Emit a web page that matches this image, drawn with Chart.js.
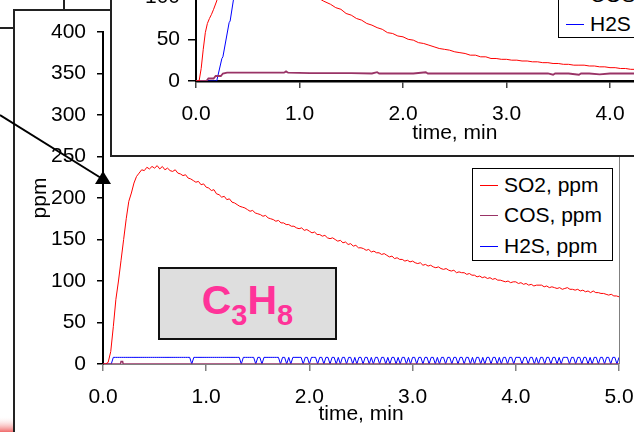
<!DOCTYPE html>
<html>
<head>
<meta charset="utf-8">
<title>C3H8 - SO2 / COS / H2S</title>
<script src="https://cdn.jsdelivr.net/npm/chart.js@4.4.1/dist/chart.umd.min.js"></script>
<style>
  html, body { margin: 0; padding: 0; background: #fff; }
  #page { position: relative; width: 634px; height: 432px; overflow: hidden; font-family: 'Liberation Sans', Arial, sans-serif; }
  .abs { position: absolute; }
  #mainChart { left: 0; top: 0; }
  #insetBox { left: 110px; top: -150px; width: 620px; height: 307px; border: 2px solid #222; box-sizing: border-box; background: #fff; }
  #insetChart { left: 0; top: 0; }
  .legend { position: absolute; background: #fff; border: 1.5px solid #000; box-sizing: border-box; }
  .legend .row { position: absolute; left: 0; height: 24px; line-height: 24px; font-size: 21px; white-space: nowrap; color: #000; }
  .legend .swatch { position: absolute; top: 12px; width: 18px; height: 1px; }
  .legend .label { position: absolute; top: 0; }
  #mainLegend { left: 472px; top: 168px; width: 141px; height: 93px; }
  #mainLegend .swatch { left: 7px; }
  #mainLegend .label { left: 31px; }
  #insetLegend { left: 558px; top: -62px; width: 100px; height: 100px; }
  #insetLegend .swatch { left: 7px; }
  #insetLegend .label { left: 31px; }
  #gasLabel { left: 158px; top: 267px; width: 179px; height: 73px; border: 2px solid #111; box-sizing: border-box; background: #dedede;
              display: flex; align-items: center; justify-content: center; }
  #gasLabel span { color: #ff3399; font-weight: bold; font-size: 41px; line-height: 1; position: relative; top: -3px; }
  #gasLabel sub { font-size: 29px; vertical-align: -11px; line-height: 0; }
</style>
</head>
<body>
<div id="page">
  <!-- frame lines of the slide behind the charts -->
  <svg class="abs" style="left:0;top:0" width="634" height="432">
    <defs>
      <linearGradient id="blotch" x1="0" y1="0" x2="0" y2="1">
        <stop offset="0" stop-color="#ffffff" stop-opacity="0"/>
        <stop offset="1" stop-color="#f06a6a"/>
      </linearGradient>
    </defs>
    <rect x="0" y="416" width="14" height="16" fill="url(#blotch)"/>
    <g stroke="#222" stroke-width="2" fill="none">
      <line x1="14" y1="10" x2="110" y2="10"/>
      <line x1="64" y1="0" x2="64" y2="10"/>
      <line x1="14" y1="9" x2="14" y2="432"/>
      <line x1="0" y1="28" x2="14" y2="28"/>
    </g>
  </svg>

  <canvas id="mainChart" class="abs" width="634" height="432"></canvas>

  <div id="mainLegend" class="legend">
    <div class="row" style="top:4px"><span class="swatch" style="background:#ff0000"></span><span class="label">SO2, ppm</span></div>
    <div class="row" style="top:34px"><span class="swatch" style="background:#993366"></span><span class="label">COS, ppm</span></div>
    <div class="row" style="top:65px"><span class="swatch" style="background:#0000ff"></span><span class="label">H2S, ppm</span></div>
  </div>

  <div id="gasLabel" class="abs"><span>C<sub>3</sub>H<sub>8</sub></span></div>

  <div id="insetBox" class="abs">
    <canvas id="insetChart" class="abs" width="616" height="303"></canvas>
  </div>

  <div id="insetLegend" class="legend">
    <div class="row" style="top:15px"><span class="swatch" style="background:#ff0000"></span><span class="label">SO2</span></div>
    <div class="row" style="top:44px"><span class="swatch" style="background:#993366"></span><span class="label">COS</span></div>
    <div class="row" style="top:73px"><span class="swatch" style="background:#0000ff"></span><span class="label">H2S</span></div>
  </div>

  <!-- arrow pointing from the inset to the main curve -->
  <svg class="abs" style="left:0;top:0" width="634" height="432">
    <line x1="0" y1="115" x2="101" y2="178" stroke="#000" stroke-width="2"/>
    <polygon points="103,171 95,184 111,184" fill="#000"/>
  </svg>
</div>

<script>
// main chart (5 min run), ppm
const so2Step = 0.025;   // min between SO2 samples
const so2Main = [
  0, 0, 2, 15, 45, 78, 100, 125, 150, 175,
  196, 206, 218, 226, 230, 234, 233, 237, 235, 238,
  236, 239, 235, 238, 234, 236, 233, 232, 234, 230,
  229, 227, 228, 224, 223, 221, 219, 220, 216, 217,
  213, 212, 209, 210, 205, 204, 201, 202, 198, 199,
  195, 194, 192, 190, 189, 188, 186, 184, 185, 182,
  181, 180, 178, 179, 176, 175, 174, 172, 173, 170,
  170, 168, 168, 166, 166, 164, 163, 164, 161, 162,
  160, 158, 159, 156, 156, 154, 155, 152, 151, 152,
  150, 148, 149, 146, 147, 144, 145, 142, 143, 140,
  140, 139, 137, 138, 135, 136, 134, 134, 132, 133,
  131, 129, 130, 127, 128, 126, 126, 124, 125, 123,
  124, 122, 121, 122, 119, 120, 118, 119, 117, 116,
  117, 115, 114, 115, 113, 112, 113, 110, 111, 110,
  110, 108, 109, 107, 107, 105, 106, 104, 105, 103,
  104, 102, 103, 101, 101, 100, 99, 100, 98, 99,
  99, 97, 98, 96, 97, 95, 96, 94, 95, 95,
  95, 93, 94, 92, 93, 92, 91, 92, 90, 91,
  92, 90, 90, 89, 90, 88, 89, 87, 88, 86,
  88, 86, 86, 85, 85, 84, 83, 84, 82, 82,
  81
];

const h2sStep = 0.02;    // min between H2S samples
const h2sMain = [
  0, 0, 0, 0, 0, 8, 8, 8, 8, 8, 8, 8, 8, 8, 8, 8, 8, 8, 8, 8, 8, 8, 8, 8, 8,
  8, 8, 8, 8, 8, 8, 8, 8, 8, 8, 8, 8, 8, 8, 8, 8, 8, 8, 0, 8, 8, 8, 8, 8, 8,
  8, 8, 8, 8, 8, 8, 8, 8, 8, 8, 8, 8, 8, 8, 8, 8, 8, 0, 8, 8, 8, 8, 8, 8, 0,
  8, 8, 0, 8, 8, 8, 8, 8, 8, 8, 8, 0, 8, 8, 0, 8, 0, 8, 8, 8, 8, 8, 0, 8, 8,
  0, 8, 8, 8, 0, 8, 8, 0, 8, 8, 0, 8, 8, 0, 8, 0, 8, 8, 0, 8, 8, 0, 8, 0, 8,
  8, 0, 8, 8, 0, 8, 0, 8, 8, 0, 8, 8, 0, 8, 0, 8, 8, 0, 8, 0, 8, 8, 0, 8, 0,
  8, 8, 0, 8, 8, 0, 8, 8, 0, 8, 8, 0, 8, 0, 8, 8, 0, 8, 8, 0, 8, 8, 0, 8, 8,
  0, 8, 8, 0, 8, 0, 8, 8, 0, 8, 0, 8, 8, 0, 8, 8, 0, 8, 0, 8, 8, 0, 8, 8, 0,
  8, 8, 8, 0, 8, 8, 0, 8, 8, 0, 8, 0, 8, 8, 0, 8, 8, 0, 8, 8, 0, 8, 0, 8, 8,
  8, 0, 8, 8, 0, 8, 8, 0, 8, 8, 0, 8, 0, 8, 8, 0, 8, 8, 0, 8, 8, 0, 8, 8, 0,
  8
];

const cosMainTime = [0, 0.17, 0.175, 0.19, 0.195, 5.0];
const cosMainVal  = [0, 0, 3, 3, 0, 0];

// inset chart (earlier run)
const so2InsetTime = [0, 0.03, 0.05, 0.07, 0.09, 0.11, 0.13, 0.15, 0.17, 0.20, 0.30, 0.45, 0.60, 0.80, 1.00, 1.15, 1.23,
  1.30, 1.35, 1.40, 1.45, 1.50, 1.55, 1.60, 1.65, 1.70, 1.75, 1.80, 1.85, 1.90, 1.95, 2.00, 2.05, 2.10, 2.15, 2.20,
  2.25, 2.30, 2.35, 2.40, 2.45, 2.50, 2.55, 2.60, 2.65, 2.70, 2.75, 2.80, 2.85, 2.90, 2.95, 3.00, 3.05, 3.10, 3.15,
  3.20, 3.25, 3.30, 3.35, 3.40, 3.45, 3.50, 3.55, 3.60, 3.65, 3.70, 3.75, 3.80, 3.85, 3.90, 3.95, 4.00, 4.05, 4.10,
  4.15, 4.20, 4.25, 4.30];
const so2InsetVal = [0, 0, 15, 38, 58, 69, 75, 80, 86, 96, 140, 165, 160, 140, 118, 102, 96,
  92, 88, 86, 81, 79, 75, 73, 69, 67, 64, 62, 58, 57, 54, 53, 50, 49, 46, 45,
  43, 41, 39, 38, 37, 35, 34, 33, 31, 31, 29, 29, 27, 27, 26, 26, 25, 25, 24,
  24, 23, 23, 22, 22, 21, 21, 20, 20, 19, 19, 19, 18, 18, 17, 17, 16, 16, 15,
  15, 14, 14, 14];

const cosInsetTime = [0, 0.10, 0.12, 0.17, 0.19, 0.24, 0.26, 0.30, 0.50, 0.70, 0.85, 0.87, 0.89, 1.10, 1.30, 1.50,
  1.70, 1.75, 1.77, 1.90, 2.10, 2.22, 2.24, 2.40, 2.60, 2.80, 3.00, 3.20, 3.40, 3.45, 3.47, 3.60, 3.70, 3.72,
  3.80, 3.90, 4.00, 4.10, 4.30];
const cosInsetVal = [0, 0, 3, 3, 6, 6, 9, 10, 10, 10, 10, 11.5, 10, 9.5, 9.5, 9.5,
  9, 10.5, 9, 9, 9, 10.5, 9, 9, 9, 9, 9, 9, 9, 7.5, 9, 9, 7.5, 9,
  9, 8, 9, 9, 9];

const h2sInsetTime = [0, 0.20, 0.25, 0.26, 0.32, 0.33, 0.36, 0.45, 0.60, 0.80, 1.00, 1.50, 2.00, 3.00, 4.00, 5.00];
const h2sInsetVal  = [0, 0, 27, 29, 70, 72, 96, 160, 200, 210, 200, 180, 160, 140, 125, 115];

const xTicks = [0, 1, 2, 3, 4, 5];

Chart.defaults.font.family = "'Liberation Sans', Arial, sans-serif";
Chart.defaults.font.size = 21;
Chart.defaults.color = '#000';

const pairs = (t, v) => t.map((x, i) => ({ x: x, y: v[i] }));
const stepped = (step, v) => v.map((y, i) => ({ x: i * step, y: y }));

// gray right edge of the main plot area
const plotFrame = {
  id: 'plotFrame',
  beforeDatasetsDraw(chart) {
    const { ctx, chartArea } = chart;
    ctx.save();
    ctx.strokeStyle = '#808080';
    ctx.lineWidth = 1;
    ctx.beginPath();
    ctx.moveTo(chartArea.right + 0.5, chartArea.top);
    ctx.lineTo(chartArea.right + 0.5, chartArea.bottom);
    ctx.stroke();
    ctx.restore();
  }
};

function xAxis(max, height, xColor, titlePad, tickColor) {
  return {
    type: 'linear', min: 0, max: max,
    afterBuildTicks: s => { s.ticks = xTicks.filter(v => v <= max).map(v => ({ value: v })); },
    ticks: { callback: v => Number(v).toFixed(1), padding: 14, maxRotation: 0, autoSkip: false },
    grid: { drawOnChartArea: false, tickLength: 7, color: tickColor, lineWidth: 1.5 },
    border: { color: xColor.color, width: xColor.width },
    title: { display: true, text: 'time, min', padding: { top: 0, bottom: titlePad } },
    afterFit: s => { s.height = height; s.paddingLeft = 0; s.paddingRight = 0; }
  };
}

new Chart(document.getElementById('mainChart'), {
  type: 'line',
  data: {
    datasets: [
      { label: 'SO2, ppm', data: stepped(so2Step, so2Main), borderColor: '#ff0000', borderWidth: 1 },
      { label: 'COS, ppm', data: pairs(cosMainTime, cosMainVal), borderColor: '#993366', borderWidth: 1.5 },
      { label: 'H2S, ppm', data: stepped(h2sStep, h2sMain), borderColor: '#0000ff', borderWidth: 1 }
    ]
  },
  options: {
    responsive: false,
    animation: false,
    layout: { padding: { left: 0, top: 32, right: 15, bottom: 0 } },
    elements: { point: { radius: 0 }, line: { tension: 0 } },
    plugins: { legend: { display: false }, tooltip: { enabled: false } },
    scales: {
      x: xAxis(5, 68, { color: '#808080', width: 1 }, 5, '#808080'),
      y: {
        min: 0, max: 400,
        ticks: { stepSize: 50, padding: 11 },
        grid: { drawOnChartArea: false, tickLength: 6, color: '#000', lineWidth: 1.5 },
        border: { color: '#000', width: 2 },
        title: { display: true, text: 'ppm', padding: { top: 28, bottom: 0 } },
        afterFit: s => { s.width = 103; }
      }
    }
  },
  plugins: [plotFrame]
});

new Chart(document.getElementById('insetChart'), {
  type: 'line',
  data: {
    datasets: [
      { label: 'SO2', data: pairs(so2InsetTime, so2InsetVal), borderColor: '#ff0000', borderWidth: 1 },
      { label: 'COS', data: pairs(cosInsetTime, cosInsetVal), borderColor: '#993366', borderWidth: 1.8 },
      { label: 'H2S', data: pairs(h2sInsetTime, h2sInsetVal), borderColor: '#0000ff', borderWidth: 1 }
    ]
  },
  options: {
    responsive: false,
    animation: false,
    layout: { padding: { left: 0, top: 19, right: 14.5, bottom: 0 } },
    elements: { point: { radius: 0 }, line: { tension: 0 } },
    plugins: { legend: { display: false }, tooltip: { enabled: false } },
    scales: {
      x: xAxis(5, 74, { color: '#000', width: 2.5 }, 9, '#444'),
      y: {
        min: 0, max: 250,
        ticks: { stepSize: 50, padding: 8 },
        grid: { drawOnChartArea: false, tickLength: 8, color: '#000', lineWidth: 1.5 },
        border: { color: '#000', width: 2 },
        afterFit: s => { s.width = 84; }
      }
    }
  }
});
</script>
</body>
</html>
